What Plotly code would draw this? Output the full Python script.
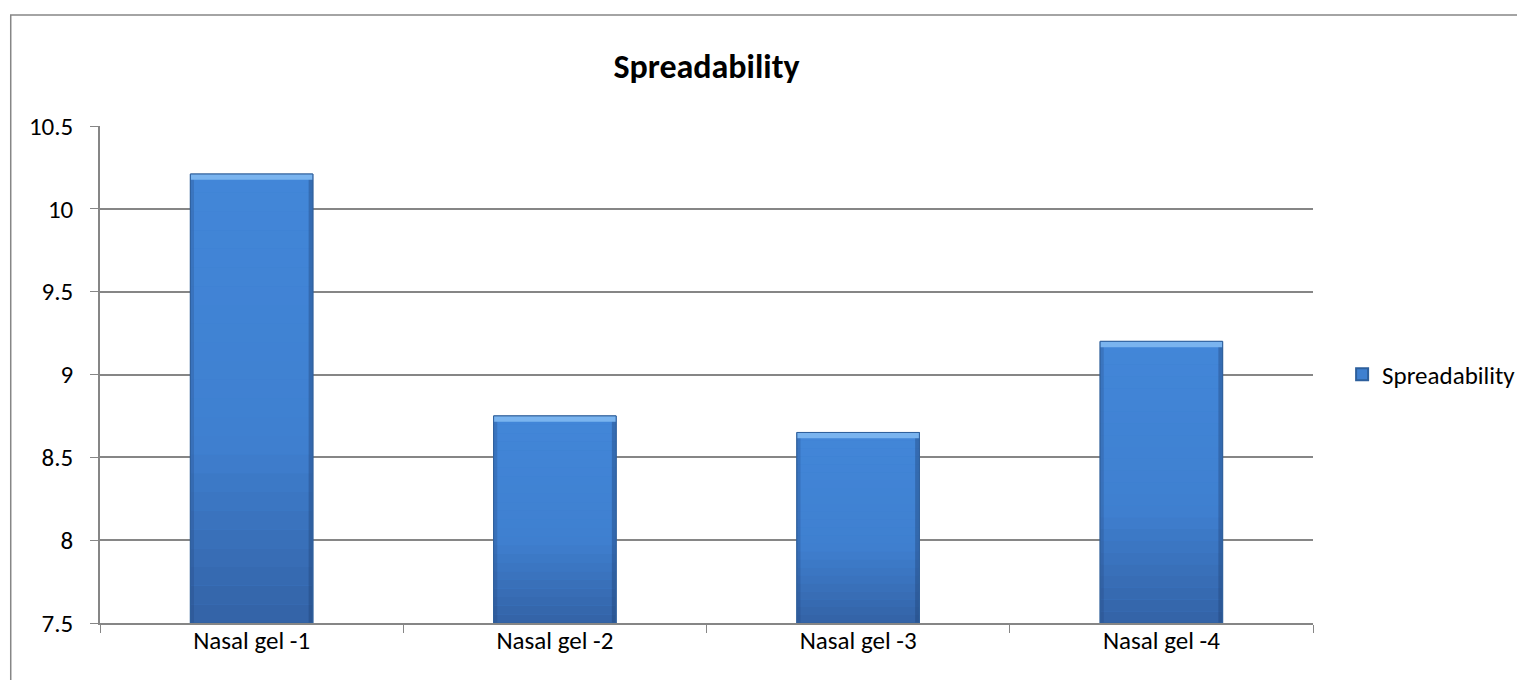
import plotly.graph_objects as go

categories = ["Nasal gel -1", "Nasal gel -2", "Nasal gel -3", "Nasal gel -4"]
values = [10.21, 8.75, 8.65, 9.2]
series_name = "Spreadability"
y_ticks = [7.5, 8, 8.5, 9, 9.5, 10, 10.5]
y_tick_labels = ["7.5", "8", "8.5", "9", "9.5", "10", "10.5"]

FONT = "Carlito, Calibri, Lato, sans-serif"
GRID = "#868686"
Y_MIN = 7.5

fig = go.Figure()
fig.add_trace(go.Bar(
    x=categories, y=values, name=series_name,
    marker=dict(color="#3f80d0", line=dict(color="#2d5f9c", width=1)),
    showlegend=True,
))


def lerp(c1, c2, t):
    return "rgb(%d,%d,%d)" % tuple(round(a + (b - a) * t) for a, b in zip(c1, c2))


top_c = (66, 134, 216)
mid_c = (63, 128, 208)
bot_c = (52, 100, 168)
bar_half = 0.202
n_strips = 24
for i, v in enumerate(values):
    h = v - Y_MIN
    for k in range(n_strips):
        t = k / (n_strips - 1)
        if t < 0.6:
            col = lerp(top_c, mid_c, t / 0.6)
        else:
            col = lerp(mid_c, bot_c, (t - 0.6) / 0.4)
        y1 = v - h * k / n_strips
        y0 = v - h * (k + 1) / n_strips
        fig.add_shape(type="rect", xref="x", yref="y",
                      x0=i - bar_half, x1=i + bar_half, y0=y0, y1=y1,
                      fillcolor=col, line=dict(width=0), layer="above")
    # side bevels
    fig.add_shape(type="rect", xref="x", yref="y",
                  x0=i - bar_half, x1=i - bar_half + 0.012, y0=Y_MIN, y1=v,
                  fillcolor="rgba(30,60,110,0.22)", line=dict(width=0), layer="above")
    fig.add_shape(type="rect", xref="x", yref="y",
                  x0=i + bar_half - 0.014, x1=i + bar_half, y0=Y_MIN, y1=v,
                  fillcolor="rgba(30,60,110,0.35)", line=dict(width=0), layer="above")
    # top bevel highlight
    fig.add_shape(type="rect", xref="x", yref="y",
                  x0=i - bar_half, x1=i + bar_half, y0=v - 0.035, y1=v,
                  fillcolor="#7ab4ef", line=dict(width=0), layer="above")
    # outline
    fig.add_shape(type="rect", xref="x", yref="y",
                  x0=i - bar_half, x1=i + bar_half, y0=Y_MIN, y1=v,
                  fillcolor="rgba(0,0,0,0)", line=dict(color="#30609c", width=1),
                  layer="above")

# outer chart border
fig.add_shape(type="rect", xref="paper", yref="paper",
              x0=-0.0736, x1=1.3, y0=-0.3, y1=1.2233,
              line=dict(color=GRID, width=1.5), fillcolor="rgba(0,0,0,0)")

fig.update_layout(
    width=1525, height=680,
    margin=dict(l=92, r=215, t=118, b=65),
    paper_bgcolor="white", plot_bgcolor="white",
    font=dict(family=FONT, color="black", size=25),
    title=dict(text="<b>Spreadability</b>", x=0.5, xref="paper",
               y=0.915, yref="container", yanchor="middle", xanchor="center",
               font=dict(size=34, family=FONT, color="black")),
    bargap=0.596,
    legend=dict(x=1.024, y=0.5, xanchor="left", yanchor="middle",
                font=dict(size=25, family=FONT), bgcolor="rgba(0,0,0,0)",
                itemsizing="constant"),
    xaxis=dict(showgrid=False, showline=True, linecolor=GRID, linewidth=1.5,
               ticks="outside", ticklen=8, tickcolor=GRID, tickson="boundaries",
               ticklabelstandoff=-6,
               tickfont=dict(size=25, family=FONT)),
    yaxis=dict(range=[Y_MIN, 10.5], tickvals=y_ticks, ticktext=y_tick_labels,
               showgrid=True, gridcolor=GRID, gridwidth=1.5,
               showline=True, linecolor=GRID, linewidth=1.5,
               ticks="outside", ticklen=8, tickcolor=GRID, ticklabelstandoff=12,
               tickfont=dict(size=25, family=FONT), zeroline=False),
)

fig.write_html("out.html")
